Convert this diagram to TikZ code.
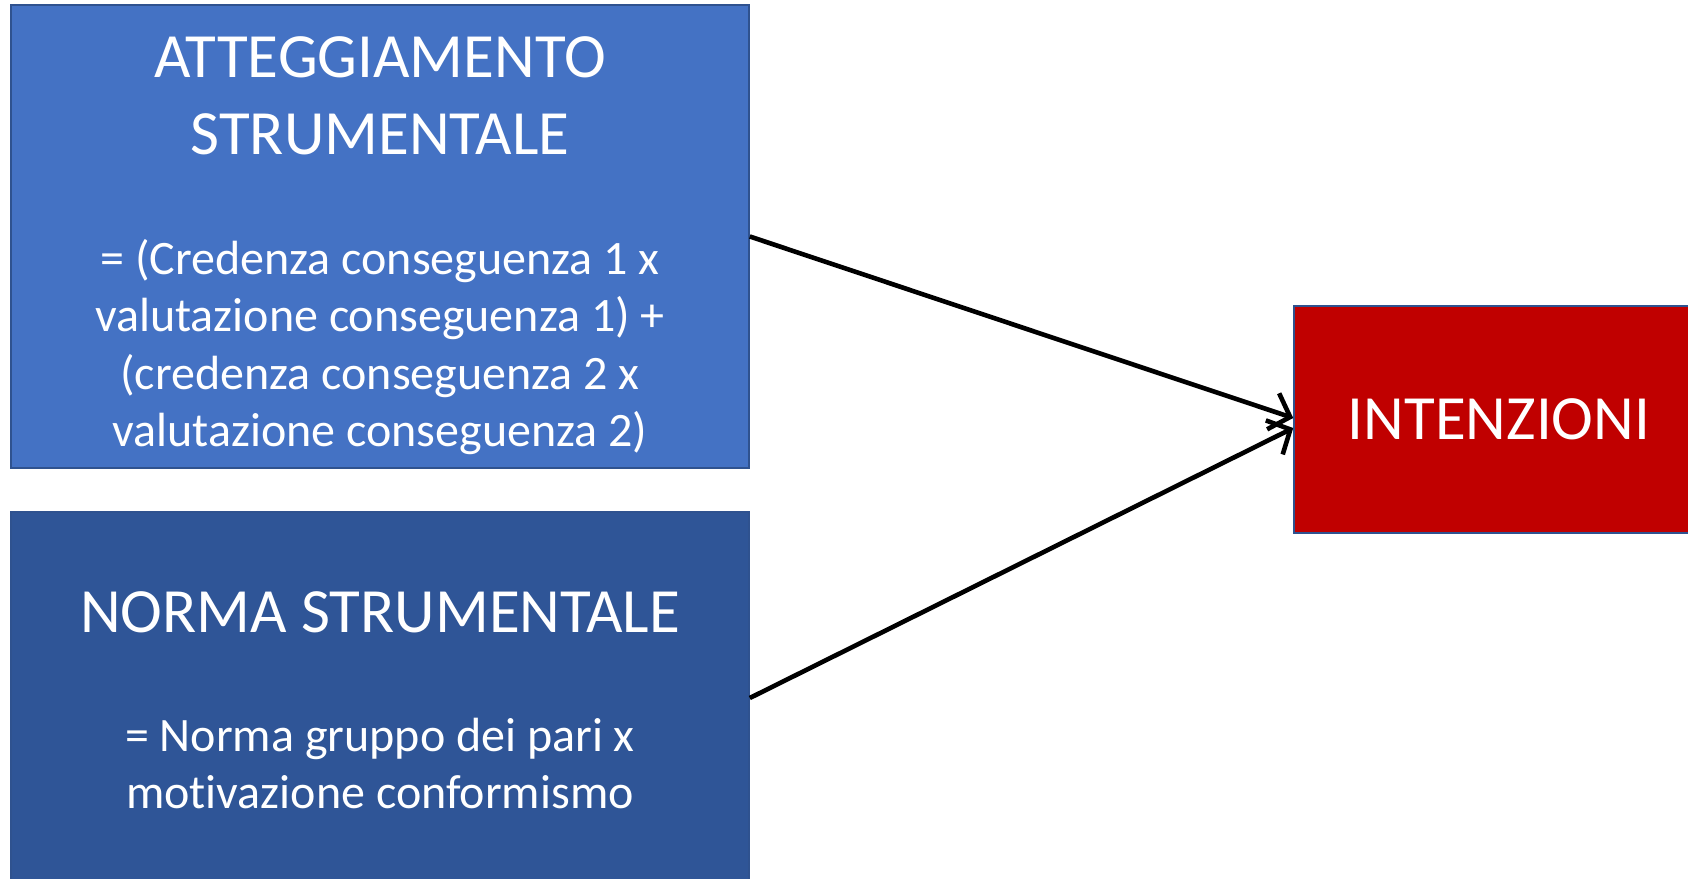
\documentclass[tikz,border=0pt]{standalone}
\usepackage{fontspec}
\setmainfont{Carlito}[Ligatures=NoCommon]
\usetikzlibrary{arrows.meta}
\definecolor{attfill}{HTML}{4472C4}
\definecolor{normfill}{HTML}{2F5597}
\definecolor{intfill}{HTML}{C00000}
\definecolor{edgeblue}{HTML}{2F528F}
\tikzset{
%Define standard arrow tip
>={Straight Barb[length=18pt,width=38pt]},
%Define styles for the boxes and their texts
box/.style={draw=edgeblue, line width=1.6pt, inner sep=0pt},
titletext/.style={text=white, align=center, inner sep=0pt, anchor=base, font=\fontsize{63}{76.5}\selectfont},
bodytext/.style={text=white, align=center, inner sep=0pt, anchor=base, font=\fontsize{48}{57.4}\selectfont},
link/.style={->, line width=4.6pt},
}

\begin{document}
\begin{tikzpicture}[x=1pt,y=-1pt]

% white page, cut at the frame
\useasboundingbox (0,0) rectangle (1688,878);
\clip (0,0) rectangle (1688,878);

% atteggiamento (texts sit on their last baseline)
\node[box, fill=attfill, minimum width=738pt, minimum height=463pt] (att) at (380,236.5) {};
\node[titletext] (atttitle) at (380,154) {ATTEGGIAMENTO\\STRUMENTALE};
\node[bodytext] (attformula) at (380,446.5) {= (Credenza conseguenza 1 x\\valutazione conseguenza 1) +\\(credenza conseguenza 2 x\\valutazione conseguenza 2)};

% norma
\node[box, fill=normfill, minimum width=738pt, minimum height=372pt] (norm) at (380,698) {};
\node[titletext] (normtitle) at (380,632) {NORMA STRUMENTALE};
\node[bodytext] (normformula) at (380,808.5) {= Norma gruppo dei pari x\\motivazione conformismo};

% intenzioni
\node[box, fill=intfill, text=white, font=\fontsize{63}{76.5}\selectfont, minimum width=410pt, minimum height=227pt] (int) at (1499,419.5) {INTENZIONI};

\draw[link] (att.east) -- ([yshift=1.5pt]int.west);
\draw[link] (norm.east) -- ([yshift=-8.5pt]int.west);

\end{tikzpicture}
\end{document}
